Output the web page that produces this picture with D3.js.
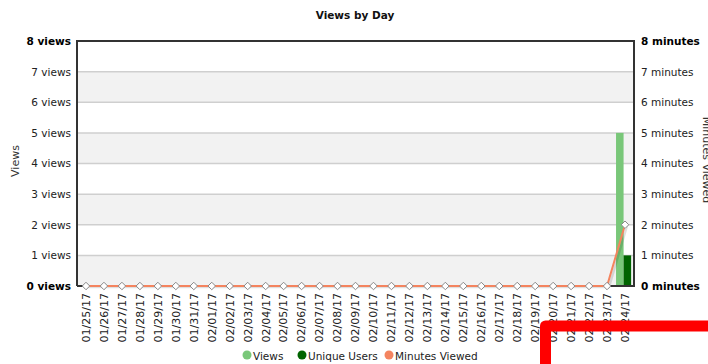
<!DOCTYPE html>
<html>
<head>
<meta charset="utf-8">
<script src="https://cdn.jsdelivr.net/npm/d3@7"></script>
<style>
  html, body { margin: 0; padding: 0; background: #fff; overflow: hidden; }
  svg { display: block; font-family: "DejaVu Sans", Verdana, sans-serif; }
</style>
</head>
<body>
<svg id="chart" width="708" height="364"></svg>
<script>
// Daily dates shown on the category axis
const dates = [
  "01/25/17","01/26/17","01/27/17","01/28/17","01/29/17","01/30/17","01/31/17",
  "02/01/17","02/02/17","02/03/17","02/04/17","02/05/17","02/06/17","02/07/17",
  "02/08/17","02/09/17","02/10/17","02/11/17","02/12/17","02/13/17","02/14/17",
  "02/15/17","02/16/17","02/17/17","02/18/17","02/19/17","02/20/17","02/21/17",
  "02/22/17","02/23/17","02/24/17"
];
// Series values per day
const views =       [0,0,0,0,0,0,0,0,0,0,0,0,0,0,0,0,0,0,0,0,0,0,0,0,0,0,0,0,0,0,5];
const uniqueUsers = [0,0,0,0,0,0,0,0,0,0,0,0,0,0,0,0,0,0,0,0,0,0,0,0,0,0,0,0,0,0,1];
const minutes =     [0,0,0,0,0,0,0,0,0,0,0,0,0,0,0,0,0,0,0,0,0,0,0,0,0,0,0,0,0,0,2];
// Axis tick values
const leftTicks = [0,1,2,3,4,5,6,7,8];
const rightTicks = [0,1,2,3,4,5,6,7,8];
const legendItems = [
  { name: "Views", color: "#79c779" },
  { name: "Unique Users", color: "#006400" },
  { name: "Minutes Viewed", color: "#f4845f" }
];

const svg = d3.select("#chart");
const plot = { left: 77, right: 634, top: 41, bottom: 286 };

const x = d3.scaleBand().domain(dates).range([plot.left, plot.right]).padding(0);
const yL = d3.scaleLinear().domain([0, 8]).range([plot.bottom, plot.top]);
const yR = d3.scaleLinear().domain([0, 8]).range([plot.bottom, plot.top]);
const xs = d3.scaleBand().domain(["views", "unique"]).range([0, x.bandwidth() * 0.84]);

// Title
svg.append("text").attr("x", 355).attr("y", 19).attr("text-anchor", "middle")
  .attr("font-size", 10.5).attr("font-weight", "bold").attr("fill", "#111")
  .text("Views by Day");

// Alternating background bands
const bands = svg.append("g");
for (let i = 0; i < 8; i++) {
  bands.append("rect")
    .attr("x", plot.left).attr("width", plot.right - plot.left)
    .attr("y", yL(i + 1)).attr("height", yL(i) - yL(i + 1))
    .attr("fill", i % 2 === 0 ? "#f2f2f2" : "#ffffff");
}

// Horizontal grid lines
svg.append("g").selectAll("line").data(leftTicks.slice(1, -1)).join("line")
  .attr("x1", plot.left).attr("x2", plot.right)
  .attr("y1", d => yL(d)).attr("y2", d => yL(d))
  .attr("stroke", "#cfcfcf").attr("stroke-width", 1.5);

// Left axis
const leftAxis = svg.append("g").attr("transform", `translate(${plot.left},0)`)
  .call(d3.axisLeft(yL).tickValues(leftTicks).tickSize(0).tickPadding(6)
    .tickFormat(d => `${d} views`));
leftAxis.select(".domain").remove();
leftAxis.selectAll("text").attr("font-size", 10.5)
  .attr("font-family", "DejaVu Sans, Verdana, sans-serif")
  .attr("font-weight", d => (d === 0 || d === 8) ? "bold" : "normal")
  .attr("fill", d => (d === 0 || d === 8) ? "#000" : "#222");

// Right axis
const rightAxis = svg.append("g").attr("transform", `translate(${plot.right},0)`)
  .call(d3.axisRight(yR).tickValues(rightTicks).tickSize(0).tickPadding(7)
    .tickFormat(d => `${d} minutes`));
rightAxis.select(".domain").remove();
rightAxis.selectAll("text").attr("font-size", 10.5)
  .attr("font-family", "DejaVu Sans, Verdana, sans-serif")
  .attr("font-weight", d => (d === 0 || d === 8) ? "bold" : "normal")
  .attr("fill", d => (d === 0 || d === 8) ? "#000" : "#222");

// Axis titles
svg.append("text").attr("transform", "translate(19,161) rotate(-90)")
  .attr("text-anchor", "middle").attr("font-size", 11).attr("fill", "#333")
  .text("Views");
svg.append("text").attr("transform", "translate(703,160) rotate(90)")
  .attr("text-anchor", "middle").attr("font-size", 11).attr("fill", "#333")
  .text("Minutes Viewed");

// Bars
const barG = svg.append("g");
barG.selectAll("rect.v").data(dates).join("rect").attr("class", "v")
  .attr("x", d => x(d) + xs("views")).attr("width", xs.bandwidth())
  .attr("y", (d, i) => yL(views[i])).attr("height", (d, i) => yL(0) - yL(views[i]))
  .attr("fill", "#79c779");
barG.selectAll("rect.u").data(dates).join("rect").attr("class", "u")
  .attr("x", d => x(d) + xs("unique")).attr("width", xs.bandwidth())
  .attr("y", (d, i) => yL(uniqueUsers[i])).attr("height", (d, i) => yL(0) - yL(uniqueUsers[i]))
  .attr("fill", "#006400");

// Frame: top, left, right and baseline
svg.append("path")
  .attr("d", `M${plot.left},${plot.bottom} V${plot.top} H${plot.right} V${plot.bottom} H${plot.left}`)
  .attr("stroke", "#333").attr("fill", "none").attr("stroke-width", 2);

// Minutes line with soft shadow
const line = d3.line().x((d, i) => x(dates[i]) + x.bandwidth() / 2).y(d => yR(d));
svg.append("path").datum(minutes).attr("d", line)
  .attr("transform", "translate(2,1)")
  .attr("fill", "none").attr("stroke", "rgba(0,0,0,0.12)").attr("stroke-width", 2.5);
svg.append("path").datum(minutes).attr("d", line)
  .attr("fill", "none").attr("stroke", "#f4845f").attr("stroke-width", 2);

// Diamond markers
svg.append("g").selectAll("path").data(minutes).join("path")
  .attr("d", d3.symbol(d3.symbolDiamond2, 36))
  .attr("transform", (d, i) => `translate(${x(dates[i]) + x.bandwidth() / 2},${yR(d)})`)
  .attr("fill", "#fff").attr("stroke", "#888").attr("stroke-width", 1);

// Category axis labels
const xAxis = svg.append("g").attr("transform", `translate(0,${plot.bottom})`)
  .call(d3.axisBottom(x).tickSize(0).tickPadding(0));
xAxis.select(".domain").remove();
xAxis.selectAll("text")
  .attr("font-size", 11).attr("fill", "#222")
  .attr("font-family", "DejaVu Sans, Verdana, sans-serif")
  .attr("text-anchor", "end")
  .attr("transform", "rotate(-90)")
  .attr("x", -7).attr("y", 0).attr("dy", "0.35em");

// Legend
const legend = svg.append("g").attr("transform", "translate(247,356)");
const legendOffsets = [0, 55, 142];
legendItems.forEach((item, i) => {
  const g = legend.append("g").attr("transform", `translate(${legendOffsets[i]},0)`);
  g.append("circle").attr("cx", 0).attr("cy", -1).attr("r", 4.5).attr("fill", item.color);
  g.append("text").attr("x", 6).attr("y", 3.5).attr("font-size", 10.5).attr("fill", "#222")
    .text(item.name);
});

// Red corner marker drawn over the lower right
svg.append("path").attr("d", "M545.5,364 V326 H708")
  .attr("fill", "none").attr("stroke", "#ff0000").attr("stroke-width", 11)
  .attr("stroke-linejoin", "round");
</script>
</body>
</html>
